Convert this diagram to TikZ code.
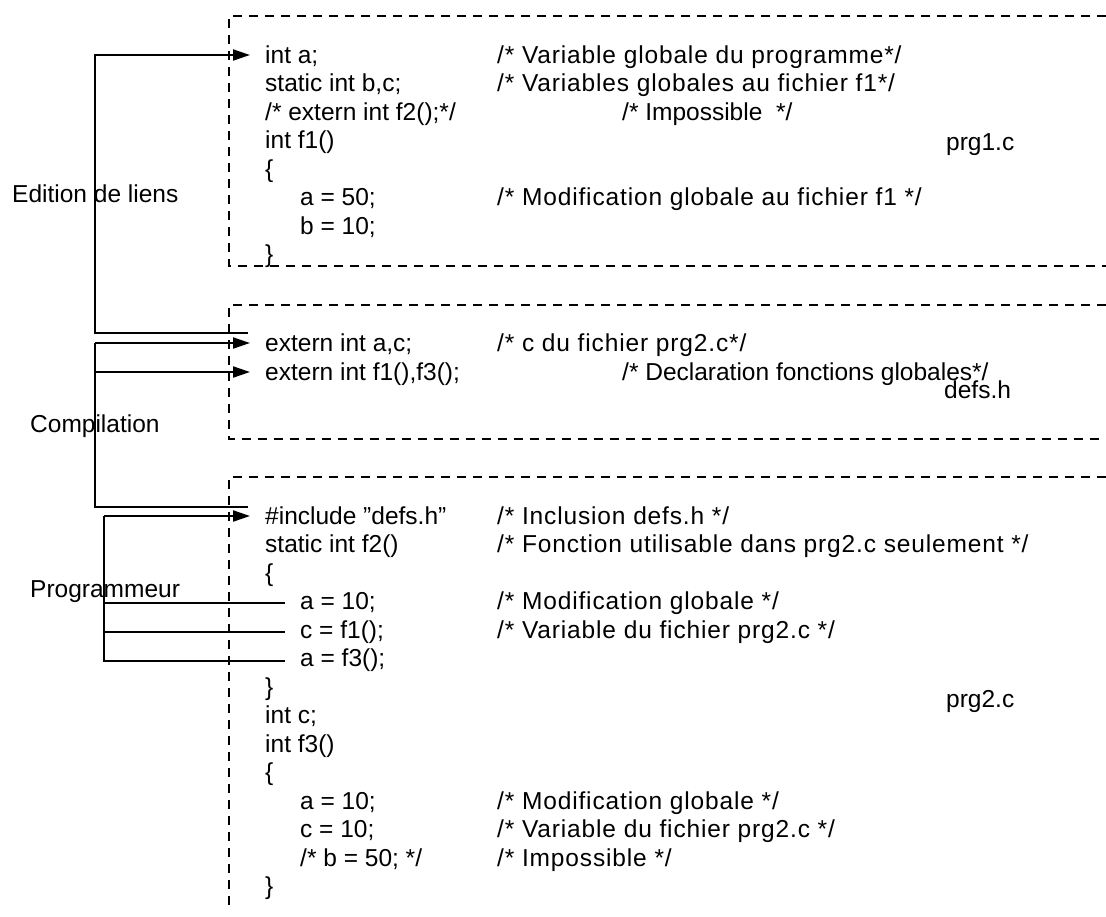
\documentclass[tikz,border=0pt]{standalone}
\usepackage{fontspec}
\setmainfont{Liberation Sans}
\newfontfamily\commentfont[LetterSpace=3.5]{Liberation Sans}
\usetikzlibrary{arrows.meta}
\begin{document}
\begin{tikzpicture}[x=1pt,y=-1pt,
  code/.style={anchor=base west, inner sep=0pt, font=\fontsize{24.5}{28}\selectfont},
  note/.style={code, font=\fontsize{24.5}{28}\commentfont},
  filebox/.style={line width=2pt, dash pattern=on 9pt off 7pt},
  link/.style={line width=2pt},
  arr/.style={link, -{Triangle[length=17pt,width=11pt]}}]
\useasboundingbox (0,0) rectangle (1106,916);

% --- source files (dashed frames, open on the right) ---
\draw[filebox] (1106,16) -- (229,16) -- (229,266) -- (1106,266);
\draw[filebox] (1106,305) -- (229,305) -- (229,439) -- (1106,439);
\draw[filebox] (1106,477) -- (229,477) -- (229,908);

% --- connector end points ---
\coordinate (edBus)  at (95,333);
\coordinate (edEnd)  at (248,333);
\coordinate (edTip)  at (250,55);
\coordinate (cpBus)  at (95,343);
\coordinate (cpEnd)  at (248,507);
\coordinate (cpTipA) at (250,343);
\coordinate (cpTipB) at (250,372);
\coordinate (pgBus)  at (104,516);
\coordinate (pgTip)  at (250,516);
\coordinate (pgA)    at (285,603);
\coordinate (pgB)    at (285,632);
\coordinate (pgC)    at (285,661);

% Edition de liens
\draw[arr] (edEnd) -- (edBus) |- (edTip);
% Compilation
\draw[link] (cpEnd) -| (cpBus);
\draw[arr] (cpBus) -- (cpTipA);
\draw[arr] (cpTipB -| cpBus) -- (cpTipB);
% Programmeur
\draw[link] (pgC) -| (pgBus);
\draw[arr] (pgBus) -- (pgTip);
\draw[link] (pgA -| pgBus) -- (pgA);
\draw[link] (pgB -| pgBus) -- (pgB);

% --- labels ---
\node[code] (lEd) at (12,202) {Edition de liens};
\node[code] (lCp) at (30,432) {Compilation};
\node[code] (lPg) at (30,597) {Programmeur};

% --- prg1.c ---
\node[code] (a1) at (265,63)    {int a;};
\node[code] (a2) at (265,91.5)  {static int b,c;};
\node[code] (a3) at (265,120)   {/* extern int f2();*/};
\node[code] (a4) at (265,148.5) {int f1()};
\node[code] (a5) at (265,177)   {\{};
\node[code] (a6) at (300,205.5) {a = 50;};
\node[code] (a7) at (300,234)   {b = 10;};
\node[code] (a8) at (265,262.5) {\}};
\node[note] (c1) at (497,63)    {/* Variable globale du programme*/};
\node[note] (c2) at (497,91.5)  {/* Variables globales au fichier f1*/};
\node[code] (c3) at (622,120)   {/* Impossible\ \ */};
\node[note] (c6) at (497,205.5) {/* Modification globale au fichier f1 */};
\node[code] (f1) at (946,150)   {prg1.c};

% --- defs.h ---
\node[code] (b1) at (265,351) {extern int a,c;};
\node[code] (b2) at (265,380) {extern int f1(),f3();};
\node[note] (d1) at (497,351) {/* c du fichier prg2.c*/};
\node[code] (d2) at (622,380) {/* Declaration fonctions globales*/};
\node[code] (f2) at (944,398) {defs.h};

% --- prg2.c ---
\node[code] (e1)  at (265,524)   {\#include "defs.h"};
\node[code] (e2)  at (265,552.5) {static int f2()};
\node[code] (e3)  at (265,581)   {\{};
\node[code] (e4)  at (300,609.5) {a = 10;};
\node[code] (e5)  at (300,638)   {c = f1();};
\node[code] (e6)  at (300,666.5) {a = f3();};
\node[code] (e7)  at (265,695)   {\}};
\node[code] (e8)  at (265,723.5) {int c;};
\node[code] (e9)  at (265,752)   {int f3()};
\node[code] (e10) at (265,780.5) {\{};
\node[code] (e11) at (300,809)   {a = 10;};
\node[code] (e12) at (300,837.5) {c = 10;};
\node[code] (e13) at (300,866)   {/* b = 50; */};
\node[code] (e14) at (265,894.5) {\}};
\node[note] (g1)  at (497,524)   {/* Inclusion defs.h */};
\node[note] (g2)  at (497,552.5) {/* Fonction utilisable dans prg2.c seulement */};
\node[note] (g4)  at (497,609.5) {/* Modification globale */};
\node[note] (g5)  at (497,638)   {/* Variable du fichier prg2.c */};
\node[note] (g11) at (497,809)   {/* Modification globale */};
\node[note] (g12) at (497,837.5) {/* Variable du fichier prg2.c */};
\node[note] (g13) at (497,866)   {/* Impossible */};
\node[code] (f3)  at (946,707)   {prg2.c};
\end{tikzpicture}
\end{document}
